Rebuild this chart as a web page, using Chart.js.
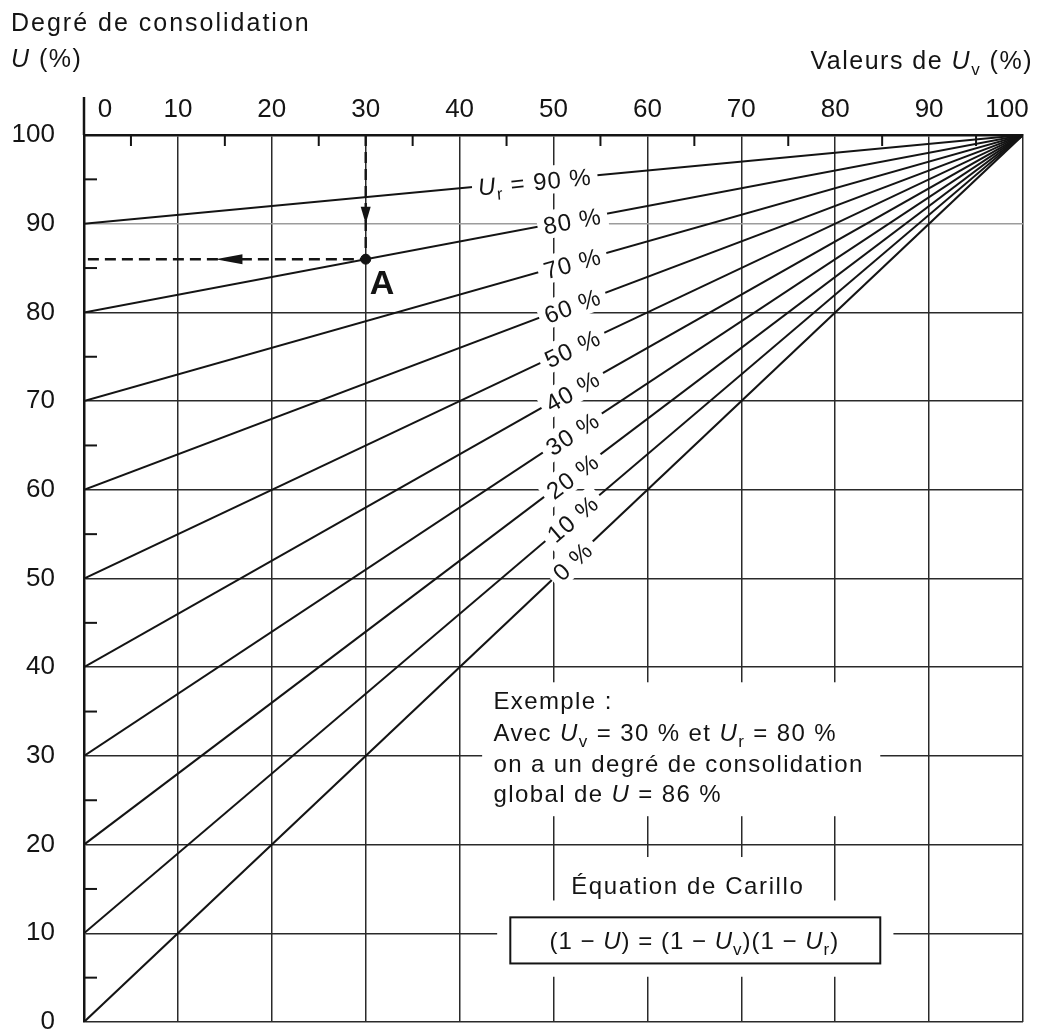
<!DOCTYPE html>
<html lang="fr">
<head>
<meta charset="utf-8">
<title>Degré de consolidation – équation de Carillo</title>
<script src="https://cdn.jsdelivr.net/npm/chart.js@4.4.1/dist/chart.umd.min.js"></script>
<style>
  html, body { margin: 0; padding: 0; background: #fff; }
  canvas { display: block; }
</style>
</head>
<body>
<canvas id="carilloChart" width="1041" height="1032"></canvas>
<script>
// one straight line per Ur value, from Uv = 0 to Uv = 100
const urValues = [0, 10, 20, 30, 40, 50, 60, 70, 80, 90];
const uAtUvStart = [0, 10, 20, 30, 40, 50, 60, 70, 80, 90];
const uAtUvEnd = [100, 100, 100, 100, 100, 100, 100, 100, 100, 100];
const uvStart = 0;
const uvEnd = 100;

const xTicks = [0, 10, 20, 30, 40, 50, 60, 70, 80, 90, 100];
const yTicks = [0, 10, 20, 30, 40, 50, 60, 70, 80, 90, 100];
const minorTicks = [5, 15, 25, 35, 45, 55, 65, 75, 85, 95];

// worked example, point A
const exampleUv = 30;
const exampleUr = 80;
const exampleU = 86;

const FONT = '"Liberation Sans", Arial, sans-serif';
const INK = "#141414";
const GRID = "#2a2a2a";

const f = (size, style = "") => `${style} ${size}px ${FONT}`;

function runsWidth(ctx, runs) {
  let w = 0;
  runs.forEach((r) => {
    ctx.font = r.font;
    w += ctx.measureText(r.t).width;
  });
  return w;
}

function drawRuns(ctx, runs, x, y, align) {
  const w = runsWidth(ctx, runs);
  let cx = align === "center" ? x - w / 2 : align === "right" ? x - w : x;
  runs.forEach((r) => {
    ctx.font = r.font;
    ctx.fillText(r.t, cx, y + (r.dy || 0));
    cx += ctx.measureText(r.t).width;
  });
  return w;
}

function seg(ctx, x1, y1, x2, y2) {
  ctx.beginPath();
  ctx.moveTo(x1, y1);
  ctx.lineTo(x2, y2);
  ctx.stroke();
}

const datasets = urValues.map((ur, i) => ({
  label: `Ur = ${ur} %`,
  data: [
    { x: uvStart, y: uAtUvStart[i] },
    { x: uvEnd, y: uAtUvEnd[i] },
  ],
  showLine: true,
  borderColor: INK,
  borderWidth: 2,
  pointRadius: 0,
}));

datasets.push({
  label: "lecture",
  data: [
    { x: exampleUv, y: 100 },
    { x: exampleUv, y: exampleU },
    { x: 0, y: exampleU },
  ],
  showLine: true,
  borderColor: INK,
  borderWidth: 2.4,
  borderDash: [11, 6],
  pointRadius: 0,
});

datasets.push({
  label: "A",
  data: [{ x: exampleUv, y: exampleU }],
  showLine: false,
  pointRadius: 5,
  backgroundColor: INK,
  borderColor: INK,
});

const carilloPlugin = {
  id: "carillo",
  afterDatasetsDraw(chart) {
    const { ctx, chartArea: area, scales } = chart;
    const x = scales.x;
    const y = scales.y;
    const P = (xv, yv) => ({ x: x.getPixelForValue(xv), y: y.getPixelForValue(yv) });

    ctx.save();
    ctx.strokeStyle = INK;
    ctx.fillStyle = INK;

    // small ticks at the 5's, top and left edges
    ctx.lineWidth = 2;
    minorTicks.forEach((v) => {
      const px = x.getPixelForValue(v);
      seg(ctx, px, area.top, px, area.top + 11);
      const py = y.getPixelForValue(v);
      seg(ctx, area.left, py, area.left + 13, py);
    });
    // left axis goes up beside the "0"
    ctx.lineWidth = 2.5;
    seg(ctx, area.left, area.top - 38, area.left, area.top);

    // arrow heads on the reading path
    const down = P(exampleUv, 90);
    ctx.beginPath();
    ctx.moveTo(down.x, down.y);
    ctx.lineTo(down.x - 5, down.y - 17);
    ctx.lineTo(down.x + 5, down.y - 17);
    ctx.closePath();
    ctx.fill();
    const left = P(14, exampleU);
    ctx.beginPath();
    ctx.moveTo(left.x, left.y);
    ctx.lineTo(left.x + 27, left.y - 5);
    ctx.lineTo(left.x + 27, left.y + 5);
    ctx.closePath();
    ctx.fill();

    const a = P(exampleUv, exampleU);
    ctx.font = f(34, "bold");
    ctx.textBaseline = "alphabetic";
    ctx.fillText("A", a.x + 4, a.y + 35);

    // Ur labels, set along each line near Uv = 50
    ctx.letterSpacing = "1px";
    urValues.forEach((ur, i) => {
      const p0 = P(uvStart, uAtUvStart[i]);
      const p1 = P(uvEnd, uAtUvEnd[i]);
      const ang = Math.atan2(p1.y - p0.y, p1.x - p0.x);
      const t = ur === 90 ? 0.48 : 0.52;
      const cx = p0.x + (p1.x - p0.x) * t;
      const cy = p0.y + (p1.y - p0.y) * t;
      const runs =
        ur === 90
          ? [
              { t: "U", font: f(24, "italic") },
              { t: "r", font: f(17), dy: 6 },
              { t: " = 90 %", font: f(24) },
            ]
          : [{ t: `${ur} %`, font: f(24) }];
      ctx.save();
      ctx.translate(cx, cy);
      ctx.rotate(ang);
      const w = runsWidth(ctx, runs);
      ctx.fillStyle = "#fff";
      ctx.fillRect(-w / 2 - 6, -14, w + 12, 28);
      ctx.fillStyle = INK;
      drawRuns(ctx, runs, 0, 9, "center");
      ctx.restore();
    });

    // example block
    const e0 = P(42.4, 38.3);
    const e1 = P(84.8, 23.2);
    ctx.fillStyle = "#fff";
    ctx.fillRect(e0.x, e0.y, e1.x - e0.x, e1.y - e0.y);
    const t0 = P(50.7, 18.6);
    const t1 = P(77.5, 12.1);
    ctx.fillRect(t0.x, t0.y, t1.x - t0.x, t1.y - t0.y);
    const b0 = P(44, 13.7);
    const b1 = P(86.2, 5.1);
    ctx.fillRect(b0.x, b0.y, b1.x - b0.x, b1.y - b0.y);

    ctx.fillStyle = INK;
    ctx.letterSpacing = "1.4px";
    const tx = x.getPixelForValue(43.6);
    const line = (v) => y.getPixelForValue(v) + 9;
    drawRuns(ctx, [{ t: "Exemple :", font: f(24) }], tx, line(36.3), "left");
    drawRuns(
      ctx,
      [
        { t: "Avec ", font: f(24) },
        { t: "U", font: f(24, "italic") },
        { t: "v", font: f(17), dy: 6 },
        { t: ` = ${exampleUv} % et `, font: f(24) },
        { t: "U", font: f(24, "italic") },
        { t: "r", font: f(17), dy: 6 },
        { t: ` = ${exampleUr} %`, font: f(24) },
      ],
      tx,
      line(32.7),
      "left"
    );
    drawRuns(ctx, [{ t: "on a un degré de consolidation", font: f(24) }], tx, line(29.2), "left");
    drawRuns(
      ctx,
      [
        { t: "global de ", font: f(24) },
        { t: "U", font: f(24, "italic") },
        { t: ` = ${exampleU} %`, font: f(24) },
      ],
      tx,
      line(25.8),
      "left"
    );

    ctx.letterSpacing = "1.6px";
    const title = P(64.3, 15.4);
    drawRuns(ctx, [{ t: "Équation de Carillo", font: f(24) }], title.x, title.y + 9, "center");

    const r0 = P(45.4, 11.8);
    const r1 = P(84.8, 6.6);
    ctx.lineWidth = 2;
    ctx.strokeRect(r0.x, r0.y, r1.x - r0.x, r1.y - r0.y);
    const fc = P(65, 9.2);
    ctx.letterSpacing = "1px";
    drawRuns(
      ctx,
      [
        { t: "(1 − ", font: f(24) },
        { t: "U", font: f(24, "italic") },
        { t: ") = (1 − ", font: f(24) },
        { t: "U", font: f(24, "italic") },
        { t: "v", font: f(17), dy: 6 },
        { t: ")(1 − ", font: f(24) },
        { t: "U", font: f(24, "italic") },
        { t: "r", font: f(17), dy: 6 },
        { t: ")", font: f(24) },
      ],
      fc.x,
      fc.y + 9,
      "center"
    );
    ctx.restore();
  },

  afterDraw(chart) {
    const { ctx, chartArea: area, scales } = chart;
    const x = scales.x;
    ctx.save();
    ctx.fillStyle = INK;
    ctx.textBaseline = "alphabetic";

    // top axis labels
    ctx.font = f(26);
    ctx.textAlign = "center";
    x.ticks.forEach((tk) => {
      let px = x.getPixelForValue(tk.value);
      if (tk.value === 0) px += 21;
      if (tk.value === 100) px -= 16;
      ctx.fillText(String(tk.value), px, area.top - 18);
    });
    ctx.textAlign = "left";

    ctx.letterSpacing = "2px";
    drawRuns(ctx, [{ t: "Degré de consolidation", font: f(25) }], 11, 31, "left");
    ctx.letterSpacing = "1.5px";
    drawRuns(
      ctx,
      [
        { t: "U", font: f(25, "italic") },
        { t: " (%)", font: f(25) },
      ],
      11,
      67,
      "left"
    );
    drawRuns(
      ctx,
      [
        { t: "Valeurs de ", font: f(25) },
        { t: "U", font: f(25, "italic") },
        { t: "v", font: f(17), dy: 6 },
        { t: " (%)", font: f(25) },
      ],
      1033,
      69,
      "right"
    );
    ctx.restore();
  },
};

new Chart(document.getElementById("carilloChart").getContext("2d"), {
  type: "scatter",
  data: { datasets },
  options: {
    responsive: false,
    animation: false,
    layout: { padding: { top: 0, left: 0, right: 18, bottom: 10 } },
    plugins: {
      legend: { display: false },
      tooltip: { enabled: false },
    },
    scales: {
      x: {
        type: "linear",
        position: "top",
        min: 0,
        max: 100,
        afterBuildTicks: (s) => {
          s.ticks = xTicks.map((v) => ({ value: v }));
        },
        ticks: { display: false },
        grid: { color: GRID, lineWidth: 1.5, drawTicks: false },
        border: { color: INK, width: 2.5 },
        afterFit: (s) => {
          s.height = 135;
          s.paddingLeft = 0;
          s.paddingRight = 0;
        },
      },
      y: {
        type: "linear",
        min: 0,
        max: 100,
        afterBuildTicks: (s) => {
          s.ticks = yTicks.map((v) => ({ value: v }));
        },
        ticks: {
          color: INK,
          padding: 29,
          font: { family: FONT, size: 26 },
        },
        grid: {
          color: (c) => (c.tick && c.tick.value === 90 ? "#9c9c9c" : GRID),
          lineWidth: 1.5,
          drawTicks: false,
        },
        border: { color: INK, width: 2.5 },
        afterFit: (s) => {
          s.width = 84;
          s.paddingTop = 0;
          s.paddingBottom = 0;
        },
      },
    },
  },
  plugins: [carilloPlugin],
});
</script>
</body>
</html>
